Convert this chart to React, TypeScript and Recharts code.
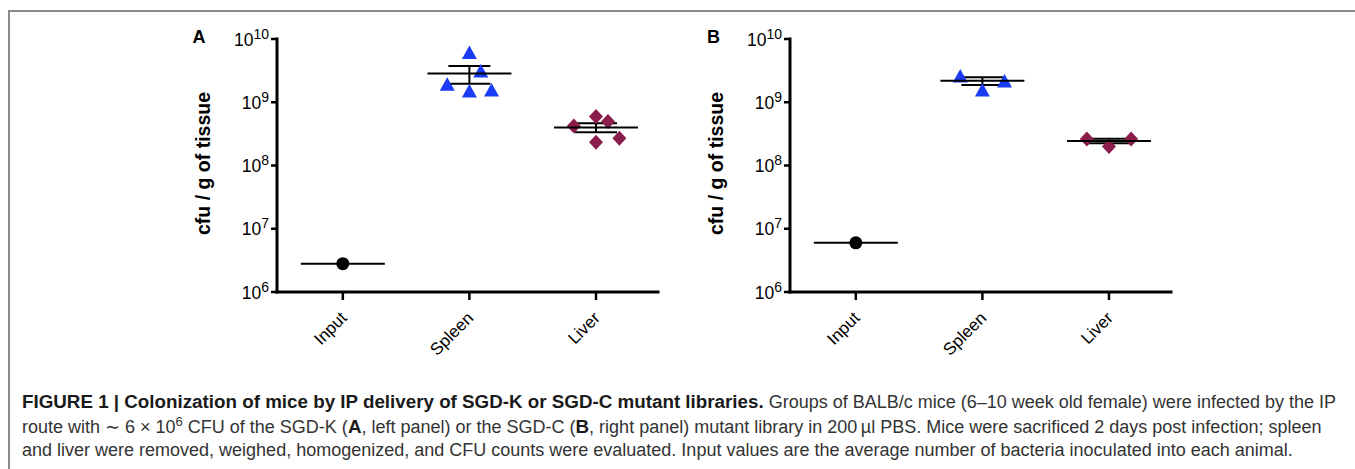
import React from 'react';
import { ErrorBar, Scatter, ScatterChart, XAxis, YAxis } from 'recharts';

const categories = ['Input', 'Spleen', 'Liver'];
const yTicks = [1e6, 1e7, 1e8, 1e9, 1e10];

// Panel A: SGD-K library
const inputA = [2.8e6];
const spleenA = [6.0e9, 3.07e9, 1.89e9, 1.48e9, 1.53e9];
const liverA = [4.23e8, 5.93e8, 4.94e8, 2.7e8, 2.33e8];
// horizontal spread of the dots, in category units
const spleenAOffsets = [0, 0.09, -0.175, 0, 0.175];
const liverAOffsets = [-0.175, 0, 0.095, 0.185, 0];
const meanA = [2.8e6, 2.85e9, 4.0e8];
const semA = [0, 0.88e9, 0.64e8];

// Panel B: SGD-C library
const inputB = [6.0e6];
const spleenB = [2.55e9, 1.53e9, 2.13e9];
const liverB = [2.63e8, 1.99e8, 2.63e8];
const spleenBOffsets = [-0.175, 0, 0.175];
const liverBOffsets = [-0.175, 0, 0.175];
const meanB = [6.0e6, 2.18e9, 2.45e8];
const semB = [0, 0.3e9, 0.2e8];

const FONT = "'Liberation Sans', Arial, Helvetica, sans-serif";
const BLUE = '#1a3cf5';
const MAROON = '#8b1d4d';

const toPoints = (cat: number, values: number[], offsets: number[] = []) =>
  values.map((v, i) => ({ x: cat + (offsets[i] ?? 0), y: v }));

const Triangle = ({ cx, cy }: any) => (
  <polygon
    points={`${cx},${cy - 7.5} ${cx - 7.5},${cy + 6} ${cx + 7.5},${cy + 6}`}
    fill={BLUE}
  />
);

const Diamond = ({ cx, cy }: any) => (
  <polygon
    points={`${cx},${cy - 7.5} ${cx + 7},${cy} ${cx},${cy + 7.5} ${cx - 7},${cy}`}
    fill={MAROON}
  />
);

const Dot = ({ cx, cy }: any) => <circle cx={cx} cy={cy} r={6.5} fill='#000' />;

const MeanLine = ({ cx, cy }: any) => (
  <line x1={cx - 42} x2={cx + 42} y1={cy} y2={cy} stroke='#000' strokeWidth={2} />
);

const Empty = () => <g />;

const PowerTick = ({ x, y, payload }: any) => {
  const exp = Math.round(Math.log10(payload.value));
  return (
    <text x={x} y={y} textAnchor='end' fontFamily={FONT} fill='#000'>
      <tspan fontSize={17.5} dy={6.5}>
        10
      </tspan>
      <tspan fontSize={14} dy={-7}>
        {exp}
      </tspan>
    </text>
  );
};

const CategoryTick = ({ x, y, payload }: any) => {
  const ax = x + 5;
  const ay = y + 17;
  return (
    <text
      x={ax}
      y={ay}
      transform={`rotate(-45 ${ax} ${ay})`}
      textAnchor='end'
      fontFamily={FONT}
      fontSize={17}
      fill='#000'
    >
      {categories[payload.value]}
    </text>
  );
};

const YLabel = ({ viewBox }: any) => {
  const lx = viewBox.x + 30;
  const ly = viewBox.y + viewBox.height / 2 - 2;
  return (
    <text
      x={lx}
      y={ly}
      transform={`rotate(-90 ${lx} ${ly})`}
      textAnchor='middle'
      fontFamily={FONT}
      fontSize={19.5}
      fontWeight='bold'
      fill='#000'
    >
      cfu / g of tissue
    </text>
  );
};

interface PanelProps {
  input: number[];
  spleen: number[];
  liver: number[];
  spleenOffsets: number[];
  liverOffsets: number[];
  mean: number[];
  sem: number[];
}

const Panel = ({ input, spleen, liver, spleenOffsets, liverOffsets, mean, sem }: PanelProps) => {
  const meanData = mean.map((m, i) => ({ x: i, y: m }));
  const semData = mean
    .map((m, i) => ({ x: i, y: m, err: sem[i] }))
    .filter((d) => d.err > 0);

  return (
    <ScatterChart width={490} height={350} margin={{ top: 19, right: 12, bottom: 20, left: 0 }}>
      <XAxis
        type='number'
        dataKey='x'
        domain={[-0.52, 2.49]}
        ticks={[0, 1, 2]}
        interval={0}
        allowDataOverflow
        height={58}
        tickSize={8}
        tick={<CategoryTick />}
        axisLine={{ stroke: '#000', strokeWidth: 3, strokeLinecap: 'square' }}
        tickLine={{ stroke: '#000', strokeWidth: 2.5 }}
      />
      <YAxis
        type='number'
        dataKey='y'
        scale='log'
        domain={[1e6, 1e10]}
        ticks={yTicks}
        interval={0}
        allowDataOverflow
        width={97}
        tickSize={6}
        tick={<PowerTick />}
        axisLine={{ stroke: '#000', strokeWidth: 3, strokeLinecap: 'square' }}
        tickLine={{ stroke: '#000', strokeWidth: 2.5 }}
        label={{ content: YLabel }}
      />
      <Scatter data={toPoints(0, input)} shape={Dot} isAnimationActive={false} />
      <Scatter data={toPoints(1, spleen, spleenOffsets)} shape={Triangle} isAnimationActive={false} />
      <Scatter data={toPoints(2, liver, liverOffsets)} shape={Diamond} isAnimationActive={false} />
      <Scatter data={meanData} shape={MeanLine} isAnimationActive={false} />
      <Scatter data={semData} shape={Empty} isAnimationActive={false}>
        <ErrorBar
          dataKey='err'
          direction='y'
          width={21}
          stroke='#000'
          strokeWidth={2}
          isAnimationActive={false}
        />
      </Scatter>
    </ScatterChart>
  );
};

const boldStyle: React.CSSProperties = { color: '#1a1a1a', fontSize: 18.8 };

const captionStyle: React.CSSProperties = {
  position: 'absolute',
  left: 22,
  top: 390,
  fontFamily: FONT,
  fontSize: 18,
  lineHeight: '23.5px',
  color: '#333',
  whiteSpace: 'nowrap',
};

const App = () => (
  <div
    style={{
      position: 'absolute',
      left: 0,
      top: 0,
      width: 1355,
      height: 469,
      overflow: 'hidden',
      background: '#fff',
    }}
  >
    <div
      style={{
        position: 'absolute',
        left: 8,
        top: 10,
        width: 1347,
        height: 459,
        borderTop: '2px solid #8c8c8c',
        borderLeft: '2px solid #8c8c8c',
      }}
    />
    <div style={{ position: 'absolute', left: 180, top: 20 }}>
      <Panel
        input={inputA}
        spleen={spleenA}
        liver={liverA}
        spleenOffsets={spleenAOffsets}
        liverOffsets={liverAOffsets}
        mean={meanA}
        sem={semA}
      />
    </div>
    <div style={{ position: 'absolute', left: 693, top: 20 }}>
      <Panel
        input={inputB}
        spleen={spleenB}
        liver={liverB}
        spleenOffsets={spleenBOffsets}
        liverOffsets={liverBOffsets}
        mean={meanB}
        sem={semB}
      />
    </div>
    <svg width={1355} height={60} style={{ position: 'absolute', left: 0, top: 0 }}>
      <text x={192.5} y={42.7} fontFamily={FONT} fontSize={18} fontWeight='bold' fill='#000'>
        A
      </text>
      <text x={707} y={42.7} fontFamily={FONT} fontSize={18} fontWeight='bold' fill='#000'>
        B
      </text>
    </svg>
    <div style={captionStyle}>
      <div>
        <b style={boldStyle}>
          FIGURE 1 | Colonization of mice by IP delivery of SGD-K or SGD-C mutant libraries.
        </b>{' '}
        Groups of BALB/c mice (6–10 week old female) were infected by the IP
      </div>
      <div>
        route with ∼ 6 × 10
        <sup style={{ fontSize: 13, lineHeight: 0 }}>6</sup> CFU of the SGD-K (
        <b style={boldStyle}>A</b>, left panel) or the SGD-C (<b style={boldStyle}>B</b>, right
        panel) mutant library in 200{'\u2009'}µl PBS. Mice were sacrificed 2 days post infection;
        spleen
      </div>
      <div>
        and liver were removed, weighed, homogenized, and CFU counts were evaluated. Input values
        are the average number of bacteria inoculated into each animal.
      </div>
    </div>
  </div>
);

export default App;
